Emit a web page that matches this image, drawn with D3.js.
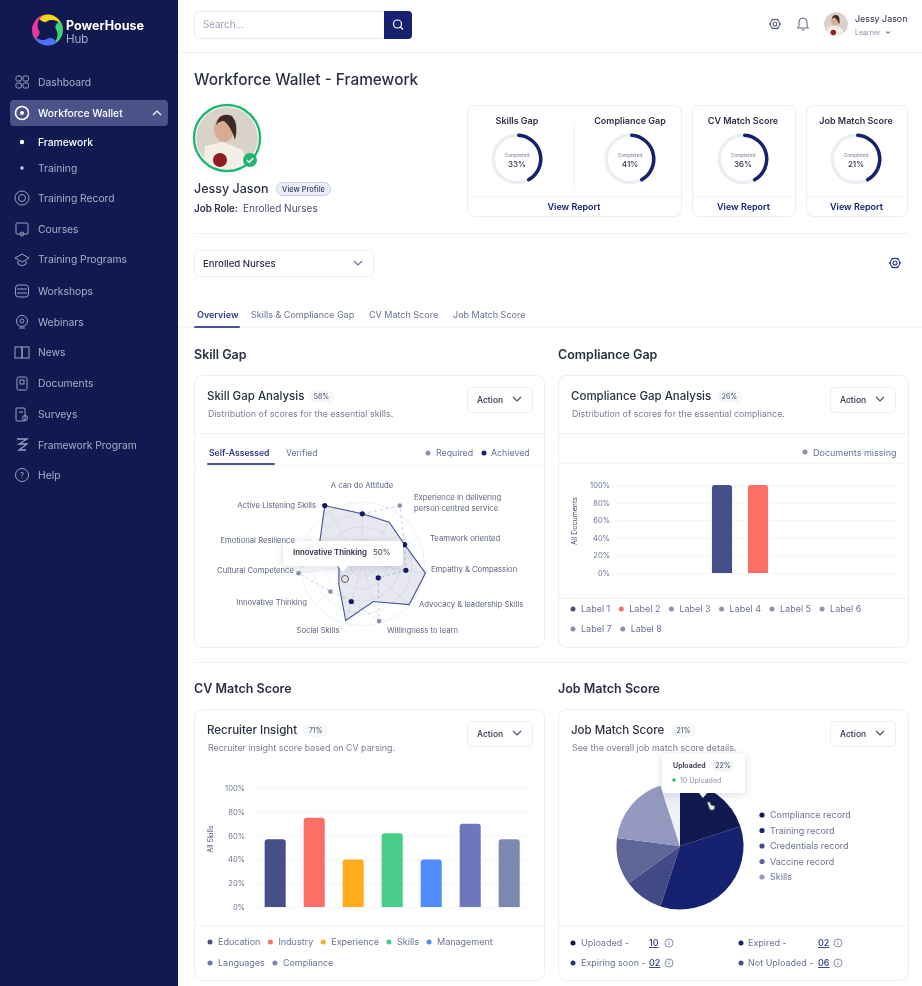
<!DOCTYPE html>
<html><head><meta charset="utf-8">
<script src="https://cdn.jsdelivr.net/npm/d3@7/dist/d3.min.js"></script>
<style>
html,body{margin:0;padding:0;background:#fff;overflow:hidden}
svg{display:block;font-family:Inter,"Open Sans",sans-serif;filter:blur(.3px)}
</style></head><body><svg id="c" width="922" height="986"></svg>
<script>
// ---------- data ----------
const navItems = ["Dashboard","Workforce Wallet","Framework","Training","Training Record","Courses","Training Programs","Workshops","Webinars","News","Documents","Surveys","Framework Program","Help"];
const gaugeTitles = ["Skills Gap","Compliance Gap","CV Match Score","Job Match Score"];
const gaugeLabels = ["33%","41%","36%","21%"];
const gaugeArcShare = [43,43,43,43];
const pageTabs = ["Overview","Skills & Compliance Gap","CV Match Score","Job Match Score"];

const radarAxes = ["A can do Attitude","Experience in delivering|person centred service","Teamwork oriented","Empathy & Compassion","Advocacy & leadership Skills","Willingness to learn","Social Skills","Innovative Thinking","Cultural Competence","Emotional Resilience","Active Listening Skills"];
const radarOutline = [81,80,75,103,100,63,95,50,38,76,112];
const radarRequired = [null,112,null,null,null,96,null,68,104,null,null];
const radarAchieved = [81,null,75,71,34,null,63,null,null,76,112];
const radarRings = [20,40,60,80,100];

const percentTicks = [0,20,40,60,80,100];
const complianceLabels = ["Label 1","Label 2","Label 3","Label 4","Label 5","Label 6","Label 7","Label 8"];
const complianceValues = [100,100];
const complianceColors = ["#474f8b","#fd6f66","#8a92ad","#8a92ad","#8a92ad","#8a92ad","#8a92ad","#8a92ad"];

const cvCategories = ["Education","Industry","Experience","Skills","Management","Languages","Compliance"];
const cvValues = [57,75,40,62,40,70,57];
const cvColors = ["#474f8b","#fd6f66","#ffad1f","#48cd8a","#4f8dfc","#6d77bb","#7d88b0"];

const pieLabels = ["Compliance record","Training record","Credentials record","Vaccine record","Skills"];
const pieValues = [20,35,10,12,18,5];
const pieColors = ["#111a50","#16226f","#414a85","#5e6698","#9499bf","#eef0f6"];
const statusLabels = ["Uploaded -","Expiring soon -","Expired -","Not Uploaded -"];
const statusCounts = ["10","02","02","06"];

// ---------- helpers ----------
const NAVY="#16226f", INK="#2b3044", MUTED="#6b7394", LINE="#eef0f5";
const svg=d3.select("#c");
const defs=svg.append("defs");
const sh=defs.append("filter").attr("id","sh").attr("x","-30%").attr("y","-40%").attr("width","160%").attr("height","200%");
sh.append("feDropShadow").attr("dx",0).attr("dy",2).attr("stdDeviation",4).attr("flood-color","#1a2050").attr("flood-opacity",.14);
function T(g,x,y,s,size,o={}){return g.append("text").attr("x",x).attr("y",y).text(s).attr("font-size",size)
  .attr("font-weight",o.w||400).attr("fill",o.f||INK).attr("text-anchor",o.a||"start");}
function R(g,x,y,w,h,r,fill,stroke){return g.append("rect").attr("x",x).attr("y",y).attr("width",w).attr("height",h).attr("rx",r)
  .attr("fill",fill||"none").attr("stroke",stroke||"none");}
function L(g,a,b,c,d,col,w){return g.append("line").attr("x1",a).attr("y1",b).attr("x2",c).attr("y2",d).attr("stroke",col||LINE).attr("stroke-width",w||1);}
function C(g,x,y,r,fill,stroke,w){return g.append("circle").attr("cx",x).attr("cy",y).attr("r",r).attr("fill",fill||"none").attr("stroke",stroke||"none").attr("stroke-width",w||1);}
function chev(g,x,y,col,up,s=4){g.append("path").attr("d",up?`M${x-s} ${y+s/2}l${s}-${s}l${s} ${s}`:`M${x-s} ${y-s/2}l${s} ${s}l${s}-${s}`).attr("fill","none").attr("stroke",col).attr("stroke-width",1.2);}
function gear(g,x,y,col){C(g,x,y,2,null,col,1.1);C(g,x,y,4.6,null,col,1.1);
  d3.range(6).forEach(i=>{const a=i*Math.PI/3;L(g,x+4.6*Math.cos(a),y+4.6*Math.sin(a),x+6*Math.cos(a),y+6*Math.sin(a),col,1.6);});}
function info(g,x,y){C(g,x,y,4,null,"#6b7394",.8);L(g,x,y-.5,x,y+2,"#6b7394",.8);C(g,x,y-2,.5,"#6b7394");}
function flowLegend(g,x0,y,items,colors,gap,rowGap,maxX){let x=x0,yy=y;
  items.forEach((s,i)=>{ const t=T(g,x+8,yy+3,s,9,{f:MUTED}); const w=t.node().getComputedTextLength();
    if(x+8+w>maxX){x=x0;yy+=rowGap;t.attr("x",x+8).attr("y",yy+3);}
    C(g,x,yy,2.5,colors[i]); x+=8+w+gap;});}

// ---------- sidebar ----------
const side=svg.append("g");
R(side,0,0,178,986,0,"#111a50");
// logo swirl
[["#f7d51d",-20],["#3fd06f",70],["#4f6ff5",160],["#e5399b",250]].forEach(([c,rot])=>{
  side.append("path").attr("transform",`translate(47.5,30) rotate(${rot})`).attr("fill",c)
   .attr("d","M0 -15.5A15.5 15.5 0 0 1 15 4A11 11 0 0 0 1 -8Q-4 -10 -4 -15Z");});
T(side,66,30,"PowerHouse",12.5,{w:700,f:"#fff"});
T(side,66,42.5,"Hub",11.5,{w:300,f:"#c9cde6"});
R(side,10,100,158,26,4,"#4a5288");
const navY=[82,113,142,168,198,229,259,291,322,352,383,414,445,475];
const SC="#9aa0c4";
const icons={
 0:(g,x,y)=>{[[-6,-6],[1,-6],[-6,1],[1,1]].forEach(p=>R(g,x+p[0],y+p[1],5.5,5,1.5,null,SC));},
 1:(g,x,y)=>{C(g,x,y,6.5,null,"#fff",1.6);C(g,x,y,2,"#fff");},
 4:(g,x,y)=>{C(g,x,y,7,null,SC);C(g,x,y,3.5,null,SC);},
 5:(g,x,y)=>{R(g,x-6,y-6,12,11,1,null,SC);C(g,x,y+5,2,null,SC);},
 6:(g,x,y)=>{g.append("path").attr("d",`M${x-7} ${y-1}l7-4l7 4l-7 4zM${x-4} ${y+2}v3l4 2l4-2v-3`).attr("fill","none").attr("stroke",SC);},
 7:(g,x,y)=>{R(g,x-6.5,y-6,13,12,3,null,SC);L(g,x-5,y-2,x+5,y-2,SC);L(g,x-5,y+2,x+5,y+2,SC);},
 8:(g,x,y)=>{C(g,x,y-1,5.5,null,SC);C(g,x,y-1,2,null,SC);L(g,x-3,y+6,x+3,y+6,SC);},
 9:(g,x,y)=>{R(g,x-7,y-5,7,11,0,null,SC);R(g,x,y-5,7,11,0,null,SC);},
 10:(g,x,y)=>{R(g,x-5,y-6,10,13,1.5,null,SC);R(g,x-2,y-3,4,4,0,null,SC);},
 11:(g,x,y)=>{R(g,x-6,y-6,9,13,1,null,SC);C(g,x+3,y+4,2.5,null,SC);L(g,x-3,y-2,x+1,y-2,SC);},
 12:(g,x,y)=>{g.append("path").attr("d",`M${x-5} ${y-6}h10l-8 5h8l-8 6h7`).attr("fill","none").attr("stroke",SC).attr("stroke-width",1.3);},
 13:(g,x,y)=>{C(g,x,y,6.5,null,SC);T(g,x,y+3,"?",8,{f:SC,a:"middle"});}
};
navItems.forEach((s,i)=>{
  const sub=i===2||i===3, act=i===1||i===2;
  T(side,38,navY[i]+3.5,s,10.3,{f:act?"#fff":"#a9aecb",w:i===2||i===1?500:400});
  if(sub) C(side,22,navY[i],i===2?2.2:1.7,i===2?"#fff":"#c9cde6");
  else icons[i](side,22,navY[i]);
});
chev(side,157,113,"#fff",true);

// ---------- header ----------
const top_=svg.append("g");
L(top_,178,52.5,922,52.5,"#f1f2f6");
R(top_,194.5,11.5,217,27,4,"#fff","#e8e9f1");
top_.append("path").attr("d","M384 11h24a4 4 0 0 1 4 4v20a4 4 0 0 1-4 4h-24z").attr("fill",NAVY);
C(top_,397.5,24,4,null,"#fff",1.2);L(top_,400.5,27,403,29.5,"#fff",1.2);
T(top_,203,28,"Search...",9.8,{f:"#9a9fb5"});
gear(top_,775,24,"#5d6480");
top_.append("path").attr("d","M803 18a4 4 0 0 1 4 4v4l1.5 2h-11l1.5-2v-4a4 4 0 0 1 4-4zM801.5 30h3").attr("fill","none").attr("stroke","#5d6480");
function avatar(g,cx,cy,r,id){
  defs.append("clipPath").attr("id",id).append("circle").attr("cx",cx).attr("cy",cy).attr("r",r);
  const a=g.append("g").attr("clip-path",`url(#${id})`);
  const k=r/31;
  C(a,cx,cy,r,"#d9d2c8");
  a.append("path").attr("d",`M${cx-24*k} ${cy+32*k}L${cx-22*k} ${cy+8*k}L${cx-4*k} ${cy+4*k}L${cx+16*k} ${cy+12*k}L${cx+22*k} ${cy+32*k}z`).attr("fill","#f3efe6");
  a.append("ellipse").attr("cx",cx-3*k).attr("cy",cy-9*k).attr("rx",10*k).attr("ry",13*k).attr("fill","#d8ab93");
  a.append("path").attr("d",`M${cx-11*k} ${cy-13*k}Q${cx-8*k} ${cy-27*k} ${cx+5*k} ${cy-22*k}Q${cx+12*k} ${cy-14*k} ${cx+8*k} ${cy+2*k}Q${cx+4*k} ${cy-12*k} ${cx-3*k} ${cy-17*k}Q${cx-8*k} ${cy-17*k} ${cx-11*k} ${cy-13*k}z`).attr("fill","#3d2a24");
  C(a,cx-7*k,cy+22*k,7*k,"#8f1d1f");
}
avatar(top_,836,24,12,"a2");
T(top_,855,22,"Jessy Jason",8.9,{f:INK});
T(top_,855,35,"Learner",7,{f:"#8a90a8"});
chev(top_,888,32.5,"#8a90a8",false,2);
T(top_,194,85,"Workforce Wallet - Framework",15.4,{w:500});

// ---------- profile ----------
const pr=svg.append("g");
avatar(pr,227,138,31,"a1");
C(pr,227,138,33,null,"#22b573",2.4);
C(pr,250,160,7,"#22b573");
pr.append("path").attr("d","M247 160l2.2 2.2l4-4").attr("fill","none").attr("stroke","#fff").attr("stroke-width",1.4);
T(pr,194,193,"Jessy Jason",12.5,{w:500});
R(pr,276.5,182.5,54,13,6.5,"#eceef7","#c9cde6");
T(pr,303.5,192,"View Profile",7.5,{a:"middle",w:500,f:"#3a4270"});
T(pr,194,212,"Job Role:",9.8,{w:600});
T(pr,243,212,"Enrolled Nurses",10,{f:"#4a4f66"});

// ---------- gauges ----------
const gg=svg.append("g");
[[467,214],[692,103],[806,101]].forEach(b=>{
  R(gg,b[0]+.5,105.5,b[1],111,7,"#fff","#eceef4");
  L(gg,b[0],197,b[0]+b[1],197,"#f0f1f6");
  T(gg,b[0]+b[1]/2,209.5,"View Report",9,{a:"middle",w:600,f:NAVY});
});
L(gg,574,124,574,188,"#eef0f5");
const gaugeX=d3.scalePoint().domain(gaugeTitles).range([517,856]);
const gaugeShare=d3.scaleLinear().domain([0,100]).range([0,2*Math.PI]);
const gArc=d3.arc().innerRadius(22).outerRadius(25.5);
gaugeTitles.forEach((t,i)=>{
  const x=gaugeX(t),y=159,a=gg.append("g").attr("transform",`translate(${x},${y})`);
  a.append("path").attr("d",gArc({startAngle:0,endAngle:2*Math.PI})).attr("fill","#eceef4");
  a.append("path").attr("d",d3.arc().innerRadius(22).outerRadius(25.5).cornerRadius(1.7)({startAngle:0,endAngle:gaugeShare(gaugeArcShare[i])})).attr("fill",NAVY);
  T(gg,x,124,t,9,{a:"middle",w:600});
  T(gg,x,157,"Completed",4.8,{a:"middle",f:"#7a7f95"});
  T(gg,x,167,gaugeLabels[i],8,{a:"middle",w:500});
});

// ---------- selector & tabs ----------
const sel=svg.append("g");
L(sel,194,233.5,908,233.5,"#eef0f5");
R(sel,194.5,250.5,179,26,5,"#fff","#eceef4");
T(sel,203,266.5,"Enrolled Nurses",9.6,{w:500});
chev(sel,358,263,"#6b7394");
gear(sel,895,263,"#2c3a85");
L(sel,178,327.5,922,327.5,"#f4f5f8");
[197,251,369,453].forEach((x,i)=>T(sel,x,317.5,pageTabs[i],9,{w:i?400:600,f:i?"#6a7190":"#2c3a85"}));
R(sel,194,326,46,2,1,"#4a5299");
T(sel,194,359,"Skill Gap",12.5,{w:600});
T(sel,558,359,"Compliance Gap",12.5,{w:600});
L(sel,194,662.5,908,662.5,"#eef0f5");
T(sel,194,693,"CV Match Score",12.5,{w:600});
T(sel,558,693,"Job Match Score",12.5,{w:600});

// ---------- cards ----------
function card(x,y,h,title,pill,pillX,sub,foot,headLine){
  const g=svg.append("g");
  R(g,x+.5,y+.5,350,h,8,"#fff","#eceef4");
  if(headLine) L(g,x,y+58.5,x+351,y+58.5,"#f0f1f6");
  if(foot) L(g,x,foot+.5,x+351,foot+.5,"#f0f1f6");
  T(g,x+13,y+25,title,11.5,{w:500});
  R(g,pillX,y+15,25,13,6.5,"#f6f7fb");
  T(g,pillX+12.5,y+24,pill,7,{a:"middle",f:"#4a4f66"});
  T(g,x+14,y+41.5,sub,8.9,{f:"#7a7f95"});
  const bx=x+(x<500?273:272);
  R(g,bx+.5,y+12.5,65,25,4,"#fff","#eceef4");
  T(g,bx+10,y+27.5,"Action",8.5,{w:500});
  chev(g,bx+50,y+24,"#4a4f66");
  return g;
}
const c1=card(194,375,272,"Skill Gap Analysis","58%",309,"Distribution of scores for the essential skills.",null,true);
const c2=card(558,375,272,"Compliance Gap Analysis","26%",717,"Distribution of scores for the essential compliance.",598,true);
const c3=card(194,709,271,"Recruiter Insight","71%",303,"Recruiter insight score based on CV parsing.",925,false);
const c4=card(558,709,271,"Job Match Score","21%",671,"See the overall job match score details.",925,false);

// ---------- radar ----------
L(c1,194,465.5,545,465.5,"#f4f5f8");
T(c1,209,456,"Self-Assessed",8.6,{w:600,f:"#2c3a85"});
T(c1,286,456,"Verified",8.6,{f:"#6a7190"});
R(c1,207,463,68,2,1,"#4a5299");
C(c1,428,453,2.5,"#8a92ad");T(c1,436,456,"Required",8.8,{f:MUTED});
C(c1,484,453,2.5,NAVY);T(c1,491,456,"Achieved",8.8,{f:MUTED});
const rc=c1.append("g").attr("transform","translate(362.3,564)");
const rScale=d3.scaleLinear().domain([0,100]).range([0,62]);
const aScale=d3.scaleBand().domain(radarAxes).range([0,2*Math.PI]).paddingInner(0).paddingOuter(0);
const ang=i=>aScale(radarAxes[i]);
const pt=(i,v)=>d3.pointRadial(ang(i),rScale(v));
radarRings.forEach(v=>C(rc,0,0,rScale(v),null,"#f0f1f6"));
radarAxes.forEach((a,i)=>{const p=pt(i,100);L(rc,0,0,p[0],p[1],"#f0f1f6");});
const rLine=d3.lineRadial().angle((d,i)=>ang(i)).radius(d=>rScale(d)).curve(d3.curveLinearClosed);
const dashed=radarAchieved.map((v,i)=>v==null?radarRequired[i]:v);
rc.append("path").attr("d",rLine(dashed)).attr("fill","none").attr("stroke","#c4c8d8").attr("stroke-width",.9).attr("stroke-dasharray","3 3");
rc.append("path").attr("d",rLine(radarOutline)).attr("fill","#474f8b").attr("fill-opacity",.13).attr("stroke","#4a5499").attr("stroke-width",1.1);
radarRequired.forEach((v,i)=>{if(v!=null){const p=pt(i,v);C(rc,p[0],p[1],2.3,"#8a92ad");}});
radarAchieved.forEach((v,i)=>{if(v!=null){const p=pt(i,v);C(rc,p[0],p[1],2.6,"#111a60");}});
// tooltip
const tip=c1.append("g").attr("filter","url(#sh)");
tip.append("path").attr("d","M287 541h112a4 4 0 0 1 4 4v17a4 4 0 0 1-4 4h-51l-5 6l-5-6h-51a4 4 0 0 1-4-4v-17a4 4 0 0 1 4-4z").attr("fill","#fff");
T(c1,293,554.5,"Innovative Thinking",7.8,{w:600});
T(c1,373,554.5,"50%",7.8,{w:500,f:"#4a4f66"});
C(c1,345,579,3.5,"#e8e6df","#44475a",.9);
const rLab=[[362,488,"middle"],[414,500,"start"],[430,541,"start"],[431,572,"start"],[419,607,"start"],[387,633,"start"],[318,633,"middle"],[307,605,"end"],[294,573,"end"],[295,543,"end"],[316,508,"end"]];
radarAxes.forEach((a,i)=>{a.split("|").forEach((s,j)=>T(c1,rLab[i][0],rLab[i][1]+j*10.5,s,7.7,{a:rLab[i][2],f:"#5d6480"}));});

// ---------- compliance bars ----------
C(c2,805,452,2.5,"#8a92ad");T(c2,813,455.5,"Documents missing",9,{f:MUTED});
L(c2,558,463.5,908,463.5,"#f4f5f8");
function yAxis(g,x,scale,w){
  const ax=g.append("g").attr("transform",`translate(${x},0)`)
    .call(d3.axisLeft(scale).tickValues(percentTicks).tickSize(-w).tickPadding(7).tickFormat(d=>d+"%"));
  ax.select(".domain").remove();
  ax.selectAll(".tick line").attr("stroke","#f3f4f8");
  ax.selectAll(".tick text").attr("fill","#6b7394").attr("font-size",7.5).attr("font-family","Inter");
}
function yTitle(g,x,y,s){g.append("text").attr("transform",`translate(${x},${y}) rotate(-90)`).attr("text-anchor","middle").attr("font-size",7).attr("fill","#4a5070").text(s);}
function bars(g,xS,yS,vals,cols,names){
  g.selectAll(null).data(vals).enter().append("path").attr("fill",(d,i)=>cols[i]).attr("d",(d,i)=>{
    const x=xS(names[i]),w=xS.bandwidth(),y=yS(d),b=yS(0),r=3;
    return `M${x} ${b}V${y+r}Q${x} ${y} ${x+r} ${y}H${x+w-r}Q${x+w} ${y} ${x+w} ${y+r}V${b}Z`;});
}
const y2=d3.scaleLinear().domain([0,100]).range([573,485]);
yAxis(c2,617,y2,278);
yTitle(c2,577,521,"All Documents");
const x2=d3.scaleBand().domain(complianceLabels.slice(0,complianceValues.length)).range([704,776]).paddingInner(.44).paddingOuter(.22);
bars(c2,x2,y2,complianceValues,complianceColors,complianceLabels);
flowLegend(c2,573,609,complianceLabels,complianceColors,11,20,895);

// ---------- CV bars ----------
const y3=d3.scaleLinear().domain([0,100]).range([907,788]);
yAxis(c3,252,y3,279);
yTitle(c3,213,839,"All Skills");
const x3=d3.scaleBand().domain(cvCategories).range([255.7,528.7]).paddingInner(.46).paddingOuter(.23);
bars(c3,x3,y3,cvValues,cvColors,cvCategories);
flowLegend(c3,210,942,cvCategories,cvColors,10,21,500);

// ---------- pie ----------
const pieG=c4.append("g").attr("transform","translate(680,846)");
const pie=d3.pie().sort(null).value(d=>d)(pieValues);
const pArc=d3.arc().innerRadius(0).outerRadius(63.5);
pieG.selectAll(null).data(pie).enter().append("path").attr("d",pArc).attr("fill",(d,i)=>pieColors[i]);
const pY=d3.scalePoint().domain(pieLabels).range([815,877]);
pieLabels.forEach((s,i)=>{C(c4,762,pY(s),2.6,pieColors[i]);T(c4,770,pY(s)+3,s,9,{f:MUTED});});
const pt4=c4.append("g").attr("filter","url(#sh)");
pt4.append("path").attr("d","M666 753h75a4 4 0 0 1 4 4v32a4 4 0 0 1-4 4h-34l-4 5l-4-5h-33a4 4 0 0 1-4-4v-32a4 4 0 0 1 4-4z").attr("fill","#fff");
T(c4,673,768,"Uploaded",7,{w:600});
R(c4,713,760.5,20,11,3,"#f1f3f9");T(c4,723,768,"22%",7,{a:"middle",f:"#4a4f66"});
C(c4,674,780,1.7,"#22b573");T(c4,680,782.5,"10 Uploaded",7,{f:"#8a90a8"});
c4.append("path").attr("d","M707 802l3 8h4l1-4l-4-1l-1-3z").attr("fill","#ece9e0").attr("stroke","#44475a").attr("stroke-width",.7);
// status rows
const stX=[[573,581,649,669],[573,581,649,669],[741,748,818,838],[741,748,818,838]];
const stY=[943,963,943,963], stC=["#111a50","#2c3570","#16226f","#474f8b"];
statusLabels.forEach((s,i)=>{
  const [d,tx,nx,ix]=stX[i];
  C(c4,d,stY[i],2.5,stC[i]);
  T(c4,tx,stY[i]+3,s,9,{f:MUTED});
  T(c4,nx,stY[i]+3,statusCounts[i],9,{w:500,f:"#2c3a85"}).attr("text-decoration","underline");
  info(c4,ix,stY[i]);
});
</script></body></html>
